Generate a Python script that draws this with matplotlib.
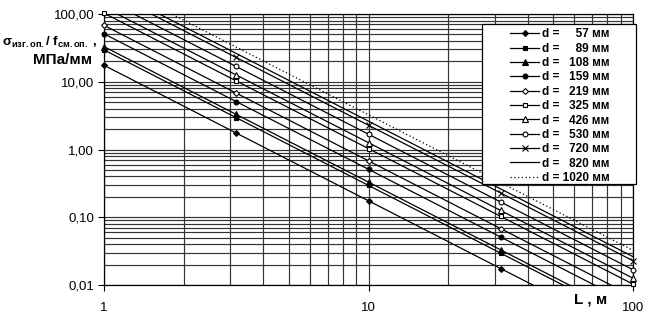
import matplotlib
matplotlib.use("Agg")
import matplotlib.pyplot as plt
from matplotlib.patches import Rectangle
from matplotlib.ticker import LogLocator, NullFormatter

plt.rcParams['font.family'] = ['Liberation Sans', 'DejaVu Sans']
plt.rcParams['mathtext.fontset'] = 'custom'
plt.rcParams['mathtext.rm'] = 'Liberation Sans'
plt.rcParams['mathtext.bf'] = 'Liberation Sans:bold'
plt.rcParams['mathtext.it'] = 'Liberation Sans:italic'

# span L, m
L_values = [1, 3.16, 10, 31.6, 100]

# pipe diameters, mm
d_values = [57, 89, 108, 159, 219, 325, 426, 530, 720, 820, 1020]

# sigma / f ratio, MPa/mm, read at each L
v57 = [17.5, 1.75, 0.175, 0.0175, 0.00175]
v89 = [29.5, 2.95, 0.295, 0.0295, 0.00295]
v108 = [33, 3.3, 0.33, 0.033, 0.0033]
v159 = [51, 5.1, 0.51, 0.051, 0.0051]
v219 = [68, 6.8, 0.68, 0.068, 0.0068]
v325 = [103, 10.3, 1.03, 0.103, 0.0103]
v426 = [126, 12.6, 1.26, 0.126, 0.0126]
v530 = [168, 16.8, 1.68, 0.168, 0.0168]
v720 = [228, 22.8, 2.28, 0.228, 0.0228]
v820 = [262, 26.2, 2.62, 0.262, 0.0262]
v1020 = [325, 32.5, 3.25, 0.325, 0.0325]
series = [v57, v89, v108, v159, v219, v325, v426, v530, v720, v820, v1020]

y_ticks = [0.01, 0.1, 1, 10, 100]
y_labels = ["0,01", "0,10", "1,00", "10,00", "100,00"]
x_ticks = [1, 10, 100]
x_labels = ["1", "10", "100"]

styles = [
    dict(marker="D", mfc="black", ms=3),
    dict(marker="s", mfc="black", ms=3.5),
    dict(marker="^", mfc="black", ms=4),
    dict(marker="o", mfc="black", ms=3.5),
    dict(marker="D", mfc="white", ms=3),
    dict(marker="s", mfc="white", ms=3.5),
    dict(marker="^", mfc="white", ms=4),
    dict(marker="o", mfc="white", ms=3.5),
    dict(marker="x", mfc="black", ms=4),
    dict(marker="None"),
    dict(marker="None", ls=(0, (1, 2))),
]

fig = plt.figure(figsize=(6.46, 3.14), dpi=100)
ax = fig.add_axes([104 / 646, 1 - 285 / 314, (633 - 104) / 646, (285 - 14) / 314])
ax.set_xscale("log")
ax.set_yscale("log")
ax.set_xlim(1, 100)
ax.set_ylim(0.01, 100)

ax.xaxis.set_minor_locator(LogLocator(base=10, subs=range(2, 10)))
ax.yaxis.set_minor_locator(LogLocator(base=10, subs=range(2, 10)))
ax.xaxis.set_minor_formatter(NullFormatter())
ax.yaxis.set_minor_formatter(NullFormatter())
ax.grid(True, which="both", color="#333333", lw=0.85)
ax.set_axisbelow(True)

handles = []
for d, vals, st in zip(d_values, series, styles):
    st = dict(st)
    ls = st.pop("ls", "-")
    ax.plot(L_values, vals, color="black", lw=0.9, ls=ls)
    # markers drawn unclipped so the ones on the frame stay whole
    pts = [(x, y) for x, y in zip(L_values, vals) if 0.0099 < y < 106]
    if st["marker"] != "None" and pts:
        ax.plot([p[0] for p in pts], [p[1] for p in pts], ls="None",
                color="black", mec="black", mew=0.8, clip_on=False,
                zorder=4, **st)
    leg, = ax.plot([], [], color="black", lw=0.9, ls=ls, mec="black",
                   mew=0.8, **st)
    handles.append(leg)

ax.set_xticks(x_ticks)
ax.set_xticklabels(x_labels)
ax.set_yticks(y_ticks)
ax.set_yticklabels(y_labels)
ax.tick_params(which="major", direction="out", length=4, width=0.8,
               labelsize=9.5, pad=3)
ax.tick_params(which="minor", length=0)
ax.tick_params(axis="x", pad=8)
for s in ax.spines.values():
    s.set_color("black")
    s.set_linewidth(0.9)

# legend box
fig.patches.append(Rectangle((482 / 646, 1 - 184 / 314), (636 - 482) / 646,
                             (184 - 24) / 314, transform=fig.transFigure,
                             facecolor="white", edgecolor="black", lw=0.9,
                             zorder=5))
labels = []
for d in d_values:
    pad = " " * (2 * (4 - len(str(d))))
    labels.append(f"d = {pad}{d} мм")
fig.legend(handles, labels, loc="upper left",
           bbox_to_anchor=(508 / 646, 1 - 26 / 314), frameon=False,
           prop=dict(weight="bold", size=8.5), handlelength=2.4,
           handletextpad=0.25, labelspacing=0.2, borderpad=0.2,
           borderaxespad=0)

fig.text(50 / 646, 1 - 42 / 314, r"$\mathbf{σ_{изг.оп.}/\ f_{см.оп.}}$ ,",
         ha="center", va="center", fontsize=9.5, weight="bold")
fig.text(63 / 646, 1 - 60 / 314, "МПа/мм", ha="center", va="center",
         fontsize=11, weight="bold")
fig.text(591 / 646, 1 - 300 / 314, "L , м", ha="center", va="center",
         fontsize=11, weight="bold")

fig.savefig("out.png", dpi=100)
